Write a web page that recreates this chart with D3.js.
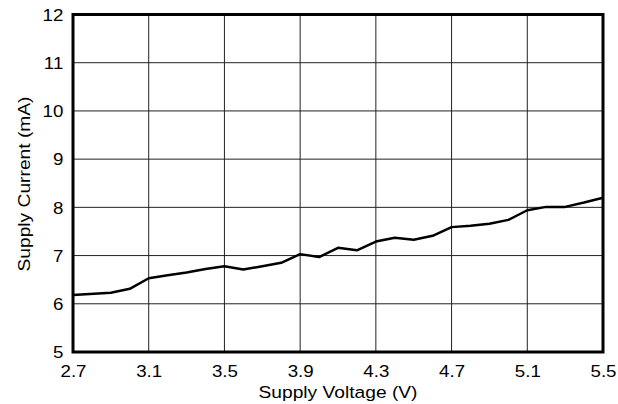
<!DOCTYPE html>
<html>
<head>
<meta charset="utf-8">
<script src="https://cdn.jsdelivr.net/npm/d3@7"></script>
<style>
  html, body { margin: 0; padding: 0; background: #fff; }
  svg { display: block; }
  text { font-family: "Liberation Sans", Arial, sans-serif; fill: #000; }
</style>
</head>
<body>
<svg id="chart" width="618" height="404"></svg>
<script>
const voltage = [2.7, 2.9, 3.0, 3.1, 3.2, 3.3, 3.4, 3.5, 3.6, 3.7, 3.8, 3.9, 4.0, 4.1, 4.2, 4.3, 4.4, 4.5, 4.6, 4.7, 4.8, 4.9, 5.0, 5.1, 5.2, 5.3, 5.4, 5.5];
const current = [6.18, 6.23, 6.31, 6.53, 6.59, 6.65, 6.72, 6.78, 6.71, 6.78, 6.85, 7.03, 6.97, 7.16, 7.11, 7.29, 7.37, 7.33, 7.41, 7.59, 7.62, 7.66, 7.74, 7.94, 8.01, 8.01, 8.10, 8.20];
const xTicks = [2.7, 3.1, 3.5, 3.9, 4.3, 4.7, 5.1, 5.5];
const yTicks = [5, 6, 7, 8, 9, 10, 11, 12];
const xTitle = "Supply Voltage (V)";
const yTitle = "Supply Current (mA)";

const svg = d3.select("#chart");
const L = 73, R = 603, T = 14.5, B = 352;
const x = d3.scaleLinear().domain([2.7, 5.5]).range([L, R]);
const y = d3.scaleLinear().domain([5, 12]).range([B, T]);
const SX = 1.17;

// grid
const g = svg.append("g");
g.selectAll("line.vx").data(xTicks.slice(1, -1)).join("line")
  .attr("x1", d => x(d)).attr("x2", d => x(d)).attr("y1", T).attr("y2", B)
  .attr("stroke", "#222").attr("stroke-width", 1);
g.selectAll("line.hy").data(yTicks.slice(1, -1)).join("line")
  .attr("y1", d => y(d)).attr("y2", d => y(d)).attr("x1", L).attr("x2", R)
  .attr("stroke", "#222").attr("stroke-width", 1);

// tick labels (axis generators, then widened like the reference face)
const xAxis = d3.axisBottom(x).tickValues(xTicks).tickSize(0).tickFormat(d3.format(".1f"));
const xa = svg.append("g").attr("transform", `translate(0,${B})`).call(xAxis);
xa.attr("font-size", null).attr("font-family", null);
xa.select(".domain").remove();
xa.selectAll(".tick text")
  .attr("y", null).attr("dy", null)
  .attr("transform", `translate(0,25.3) scale(${SX},1)`)
  .style("font-size", "16px").attr("fill", "#000").attr("text-anchor", "middle");

const yAxis = d3.axisLeft(y).tickValues(yTicks).tickSize(0).tickFormat(d3.format("d"));
const ya = svg.append("g").attr("transform", `translate(${L},0)`).call(yAxis);
ya.attr("font-size", null).attr("font-family", null);
ya.select(".domain").remove();
ya.selectAll(".tick text")
  .attr("x", null).attr("dy", null)
  .attr("transform", `translate(-9.7,5.8) scale(${SX},1)`)
  .style("font-size", "16px").attr("fill", "#000").attr("text-anchor", "end");

// data line
const line = d3.line().x((d, i) => x(voltage[i])).y(d => y(d));
svg.append("path").datum(current)
  .attr("d", line).attr("fill", "none").attr("stroke", "#000")
  .attr("stroke-width", 2.5).attr("stroke-linejoin", "round");

// frame
svg.append("rect").attr("x", L).attr("y", T).attr("width", R - L).attr("height", B - T)
  .attr("fill", "none").attr("stroke", "#000").attr("stroke-width", 3);

// titles
svg.append("text").attr("transform", `translate(${(L + R) / 2},398) scale(1.13,1)`)
  .attr("text-anchor", "middle").style("font-size", "17px").text(xTitle);
svg.append("text").attr("transform", `translate(29.5,184) rotate(-90) scale(1.13,1)`)
  .attr("text-anchor", "middle").style("font-size", "17px").text(yTitle);
</script>
</body>
</html>
